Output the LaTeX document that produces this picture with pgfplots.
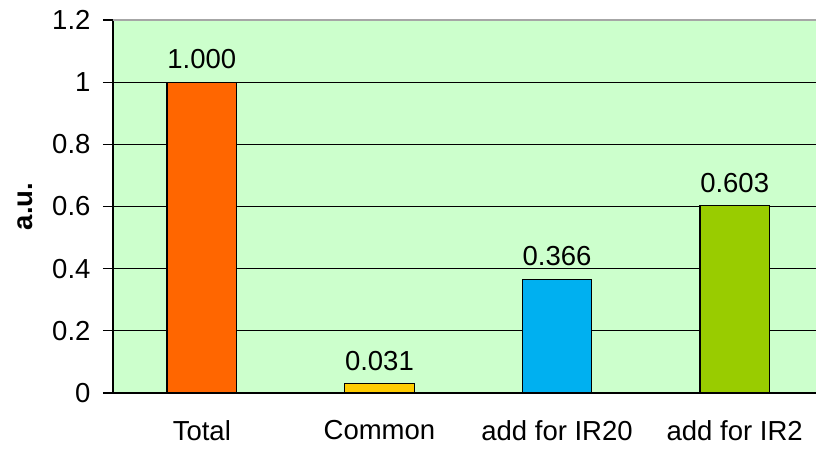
\documentclass[border=0pt]{standalone}
\usepackage{fontspec}
\setmainfont{Liberation Sans}
\usepackage{pgfplots}
\pgfplotsset{compat=1.18}
\definecolor{plotbg}{HTML}{CCFFCC}
\definecolor{cTotal}{HTML}{FF6600}
\definecolor{cCommon}{HTML}{FFCC00}
\definecolor{cIRtw}{HTML}{00B0F0}
\definecolor{cIRtwo}{HTML}{99CC00}
\newcommand{\bigfont}{\fontsize{27.5}{32}\selectfont}
\begin{document}
\begin{tikzpicture}
\begin{axis}[
    scale only axis,
    width=703pt, height=373pt,
    ybar, bar width=69.5pt,
    xmin=-0.5, xmax=3.458,
    ymin=0, ymax=1.2,
    ytick={0,0.2,...,1.2},
    yticklabels={0,0.2,0.4,0.6,0.8,1,1.2},
    xtick={0,1,2,3},
    xticklabels={Total,Common,add for IR20,add for IR2},
    extra x ticks={-0.5,0.5,1.5,2.5},
    extra x tick labels={},
    extra x tick style={major tick length=10pt, tick style={black, line width=1.3pt}, grid=none},
    major tick length=10pt,
    x tick style={draw=none},
    y tick style={black, line width=1.3pt},
    tick align=outside,
    tick pos=left,
    axis background/.style={fill=plotbg},
    axis line style={line width=1.3pt},
    separate axis lines,
    x axis line style={black},
    y axis line style={black},
    axis y line*=left,
    axis x line*=bottom,
    ymajorgrids, grid style={black, line width=1.3pt},
    /pgf/number format/assume math mode=true,
    ticklabel style={font=\bigfont},
    xticklabel style={yshift=-14pt},
    yticklabel style={xshift=-9pt},
    ylabel={\textbf{a.u.}},
    ylabel style={font=\bigfont, at={(axis description cs:-0.125,0.5)}, anchor=center, rotate=0},
    nodes near coords,
    nodes near coords style={font=\bigfont, anchor=south, yshift=9pt,
        /pgf/number format/fixed, /pgf/number format/precision=3,
        /pgf/number format/fixed zerofill},
    clip=false,
]
\addplot[bar shift=0pt, fill=cTotal, draw=black, line width=1.3pt] coordinates {(0,1.000)};
\addplot[bar shift=0pt, fill=cCommon, draw=black, line width=1.3pt] coordinates {(1,0.031)};
\addplot[bar shift=0pt, fill=cIRtw, draw=black, line width=1.3pt] coordinates {(2,0.366)};
\addplot[bar shift=0pt, fill=cIRtwo, draw=black, line width=1.3pt] coordinates {(3,0.603)};
\draw[color=black!35, line width=1.5pt] (axis cs:-0.5,1.2) -- (axis cs:3.458,1.2);
\end{axis}
\pgfresetboundingbox
\path[use as bounding box] (0,0) ++(-113pt,-56pt) rectangle ++(816pt,449pt);
\end{tikzpicture}
\end{document}
